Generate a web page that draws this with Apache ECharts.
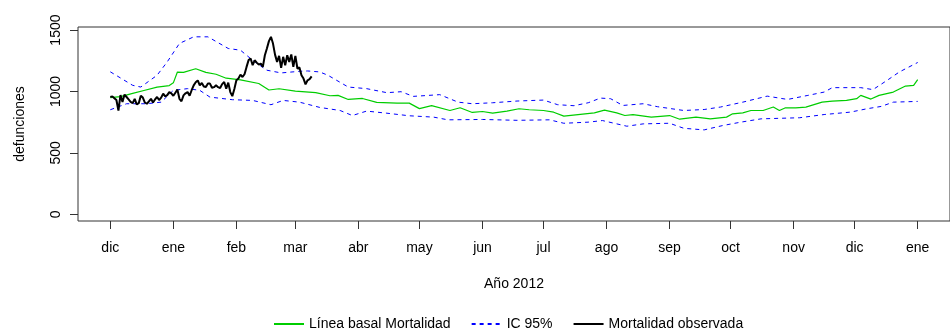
<!DOCTYPE html>
<html>
<head>
<meta charset="utf-8">
<script src="https://cdn.jsdelivr.net/npm/echarts@6/dist/echarts.min.js"></script>
<style>
html,body{margin:0;padding:0;background:#fff;}
#chart{width:950px;height:329px;}
</style>
</head>
<body>
<div id="chart"></div>
<script>
// ---- DATA (day = days since 2011-12-01) ----
var monthTickDates = ["2011-12-01","2012-01-01","2012-02-01","2012-03-01","2012-04-01","2012-05-01","2012-06-01","2012-07-01","2012-08-01","2012-09-01","2012-10-01","2012-11-01","2012-12-01","2013-01-01"];
var monthTickLabels = ["dic","ene","feb","mar","abr","may","jun","jul","ago","sep","oct","nov","dic","ene"];
var yTicks = [0, 500, 1000, 1500];

var baseDays = [0,5,11,17,23,29,31,33,36,42,47,52,57,64,73,78,83,91,101,108,112,117,124,131,141,147,152,158,167,172,178,183,188,195,201,206,213,218,223,230,238,243,249,253,257,266,275,280,288,295,303,306,311,315,321,326,329,332,337,342,350,355,362,367,369,374,378,385,391,395,397];
var baseVals = [950,958,985,1010,1035,1048,1070,1158,1155,1185,1155,1140,1108,1095,1065,1012,1022,1003,990,965,968,935,943,911,905,905,860,884,845,867,829,837,823,840,859,851,845,831,799,812,826,848,826,804,812,791,804,774,791,777,791,818,826,845,845,873,845,867,867,873,913,922,927,941,968,938,968,995,1044,1050,1096];

var upperDays = [0,5,11,15,23,28,34,41,48,58,64,70,77,84,93,97,103,107,117,126,136,143,149,162,171,178,188,200,213,220,228,235,241,246,252,262,269,282,292,300,311,323,333,343,351,355,369,375,382,388,397];
var upperVals = [1160,1110,1050,1036,1132,1241,1391,1445,1445,1350,1336,1254,1173,1151,1164,1167,1159,1132,1036,1023,990,998,960,974,913,900,908,922,930,892,884,908,946,941,886,900,876,845,853,873,913,962,935,968,995,1031,1031,1015,1091,1159,1236];

var lowerDays = [0,8,18,25,31,38,44,49,60,70,79,85,93,103,113,119,126,136,147,159,166,183,200,216,223,235,242,254,262,275,282,292,301,310,320,339,351,364,372,379,385,397];
var lowerVals = [851,900,900,913,1009,1023,1009,954,933,927,892,927,913,870,845,804,840,823,802,791,769,772,765,769,741,750,763,717,736,741,700,687,722,750,777,786,812,832,859,878,913,919];

var obsVals = [955,960,945,930,845,970,915,975,955,935,915,905,940,895,905,965,950,910,900,920,
               940,910,935,955,930,950,982,960,970,995,985,965,990,1015,940,920,968,985,995,965,
               1010,1050,1075,1090,1050,1069,1040,1036,1064,1064,1030,1035,1050,1035,1028,1060,1077,1023,1072,995,
               962,1020,1091,1105,1137,1118,1140,1200,1255,1268,1214,1254,1235,1219,1227,1200,1295,1350,1410,1445,
               1390,1300,1241,1290,1192,1282,1214,1295,1241,1301,1200,1290,1187,1195,1132,1105,1058,1091,1100,1123];

// ---- build ----
var origin = Date.UTC(2011, 11, 1);
function dayOf(s){ var p = s.split("-"); return Math.round((Date.UTC(+p[0], +p[1]-1, +p[2]) - origin) / 86400000); }
var tickDays = monthTickDates.map(dayOf);
function pairs(xs, ys){ return xs.map(function(x,i){ return [x, ys[i]]; }); }
var obsData = obsVals.map(function(v,i){ return [i, v]; });

var span = tickDays[tickDays.length-1] - tickDays[0];
var xMin = tickDays[0] - 0.04*span, xMax = tickDays[tickDays.length-1] + 0.04*span;

var font = "'Liberation Sans', Arial, sans-serif";
var chart = echarts.init(document.getElementById('chart'), null, {renderer:'canvas'});
chart.setOption({
  animation: false,
  backgroundColor: '#fff',
  textStyle: {fontFamily: font, color: '#000'},
  grid: {left: 78, right: -1, top: 27, bottom: 108, show: true, borderColor: '#333', borderWidth: 1, containLabel: false},
  legend: {
    top: 312, left: 268,
    itemWidth: 30, itemHeight: 14, itemGap: 20,
    itemStyle: {opacity: 0, borderWidth: 0},
    textStyle: {fontFamily: font, fontSize: 14, color: '#000'},
    data: ['Línea basal Mortalidad', 'IC 95%', 'Mortalidad observada']
  },
  xAxis: {
    type: 'value', min: xMin, max: xMax,
    name: 'Año 2012', nameLocation: 'middle', nameGap: 56,
    nameTextStyle: {fontFamily: font, fontSize: 14, color: '#000'},
    axisLine: {show: false, onZero: false},
    splitLine: {show: false},
    axisTick: {show: true, length: 8, lineStyle: {color: '#333'}, customValues: tickDays},
    axisLabel: {
      fontFamily: font, fontSize: 14, color: '#000', margin: 20,
      customValues: tickDays,
      formatter: function(v){ var i = tickDays.indexOf(Math.round(v)); return i >= 0 ? monthTickLabels[i] : ''; }
    }
  },
  yAxis: {
    type: 'value', min: -55, max: 1525,
    name: 'defunciones', nameLocation: 'middle', nameGap: 51,
    nameTextStyle: {fontFamily: font, fontSize: 14, color: '#000'},
    axisLine: {show: false, onZero: false},
    splitLine: {show: false},
    axisTick: {show: true, length: 8, lineStyle: {color: '#333'}, customValues: yTicks},
    axisLabel: {fontFamily: font, fontSize: 14, color: '#000', rotate: 90, margin: 15, customValues: yTicks,
      formatter: function(v){ return String(Math.round(v)); }}
  },
  series: [
    {name: 'Línea basal Mortalidad', type: 'line', symbol: 'none', data: pairs(baseDays, baseVals),
     lineStyle: {color: '#00cd00', width: 1.2}, itemStyle: {color: '#00cd00'}},
    {name: 'IC 95%', type: 'line', symbol: 'none', data: pairs(upperDays, upperVals),
     lineStyle: {color: '#0000ff', width: 1, type: [4,4]}, itemStyle: {color: '#0000ff'}},
    {name: 'IC 95%', type: 'line', symbol: 'none', data: pairs(lowerDays, lowerVals),
     lineStyle: {color: '#0000ff', width: 1, type: [4,4]}, itemStyle: {color: '#0000ff'}},
    {name: 'Mortalidad observada', type: 'line', symbol: 'none', data: obsData,
     lineStyle: {color: '#000', width: 2}, itemStyle: {color: '#000'}}
  ]
});
</script>
</body>
</html>
